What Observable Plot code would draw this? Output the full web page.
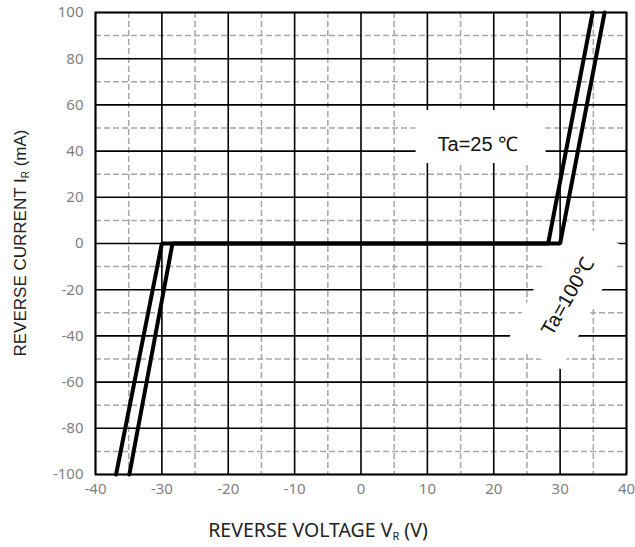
<!DOCTYPE html>
<html>
<head>
<meta charset="utf-8">
<script src="https://cdn.jsdelivr.net/npm/d3@7"></script>
<script src="https://cdn.jsdelivr.net/npm/@observablehq/plot@0.6"></script>
<style>
  html, body { margin: 0; padding: 0; background: #fff; }
  #chart svg { display: block; }
</style>
</head>
<body>
<div id="chart"></div>
<script>
// ---- data ----
const voltage25 = [-34.9, -28.4, 28.2, 34.9];   // V
const current25 = [-100, 0, 0, 100];            // mA
const voltage100 = [-36.9, -30.0, 30.0, 36.7];  // V
const current100 = [-100, 0, 0, 100];           // mA

const xMajorTicks = [-40, -30, -20, -10, 0, 10, 20, 30, 40];
const xMinorTicks = [-35, -25, -15, -5, 5, 15, 25, 35];
const yMajorTicks = [-100, -80, -60, -40, -20, 0, 20, 40, 60, 80, 100];
const yMinorTicks = [-90, -70, -50, -30, -10, 10, 30, 50, 70, 90];

const labelTexts = ["Ta=25 ℃", "Ta=100℃"];
const labelX = [17.6, 31.2];
const labelY = [43.0, -22.9];

// build tables
const curves = [
  ...voltage25.map((v, i) => ({series: "25", v, i: current25[i]})),
  ...voltage100.map((v, i) => ({series: "100", v, i: current100[i]}))
];
const labels = labelTexts.map((t, k) => ({text: t, x: labelX[k], y: labelY[k]}));

// white background boxes behind the annotations
const boxSpec = [
  {x: 18.1, y: 46.1, w: 130, h: 53, angle: 0},
  {x: 30.9, y: -22.1, w: 138, h: 61, angle: -63}
];
function whiteBoxes(index, scales) {
  const g = d3.create("svg:g");
  for (const b of boxSpec) {
    g.append("rect")
      .attr("x", -b.w / 2).attr("y", -b.h / 2)
      .attr("width", b.w).attr("height", b.h)
      .attr("fill", "white")
      .attr("transform", `translate(${scales.x(b.x)},${scales.y(b.y)}) rotate(${b.angle})`);
  }
  return g.node();
}

const tickFont = "'Noto Sans', sans-serif";

const chart = Plot.plot({
  width: 635,
  height: 547,
  marginLeft: 95,
  marginRight: 9,
  marginTop: 12,
  marginBottom: 73,
  style: {background: "white", fontFamily: tickFont, fontSize: "15px"},
  x: {domain: [-40, 40], label: null},
  y: {domain: [-100, 100], label: null},
  marks: [
    Plot.ruleX(xMinorTicks, {stroke: "#a6a6a6", strokeWidth: 1.5, strokeDasharray: "6,3"}),
    Plot.ruleY(yMinorTicks, {stroke: "#a6a6a6", strokeWidth: 1.5, strokeDasharray: "6,3"}),
    Plot.ruleX(xMajorTicks, {stroke: "#000", strokeWidth: 1.6}),
    Plot.ruleY(yMajorTicks, {stroke: "#000", strokeWidth: 1.6}),
    Plot.frame({stroke: "#000", strokeWidth: 1.8}),
    whiteBoxes,
    Plot.line(curves, {x: "v", y: "i", z: "series", stroke: "#000", strokeWidth: 4, strokeLinejoin: "miter"}),
    Plot.text(labels.slice(0, 1), {x: "x", y: "y", text: "text", fontSize: 20, fill: "#111",
      fontFamily: "'Liberation Sans', Arial, sans-serif"}),
    Plot.text(labels.slice(1), {x: "x", y: "y", text: "text", fontSize: 20, fill: "#111", rotate: -60,
      fontFamily: "'Liberation Sans', Arial, sans-serif"}),
    Plot.axisX(xMajorTicks, {tickSize: 0, tickPadding: 9, fill: "#7f7f7f", tickFormat: d => String(d), fontSize: 15}),
    Plot.axisY(yMajorTicks, {tickSize: 0, tickPadding: 12, fill: "#7f7f7f", tickFormat: d => String(d), fontSize: 15})
  ]
});

// axis titles with subscripts
const svg = d3.select(chart);
const yt = svg.append("text")
  .attr("transform", "translate(26,243) rotate(-90)")
  .attr("text-anchor", "middle")
  .attr("fill", "#222")
  .style("font-family", "'Liberation Sans', Arial, sans-serif")
  .style("font-size", "17px");
yt.append("tspan").text("REVERSE CURRENT I");
yt.append("tspan").attr("font-size", "10px").attr("dy", "3").text("R");
yt.append("tspan").attr("dy", "-3").text(" (mA)");

const xt = svg.append("text")
  .attr("x", 318).attr("y", 537)
  .attr("text-anchor", "middle")
  .attr("fill", "#222")
  .style("font-family", "'Noto Sans', sans-serif")
  .style("font-size", "19.5px");
xt.append("tspan").text("REVERSE VOLTAGE V");
xt.append("tspan").attr("font-size", "11px").attr("dy", "3").text("R");
xt.append("tspan").attr("dy", "-3").text(" (V)");

document.getElementById("chart").appendChild(chart);
</script>
</body>
</html>
